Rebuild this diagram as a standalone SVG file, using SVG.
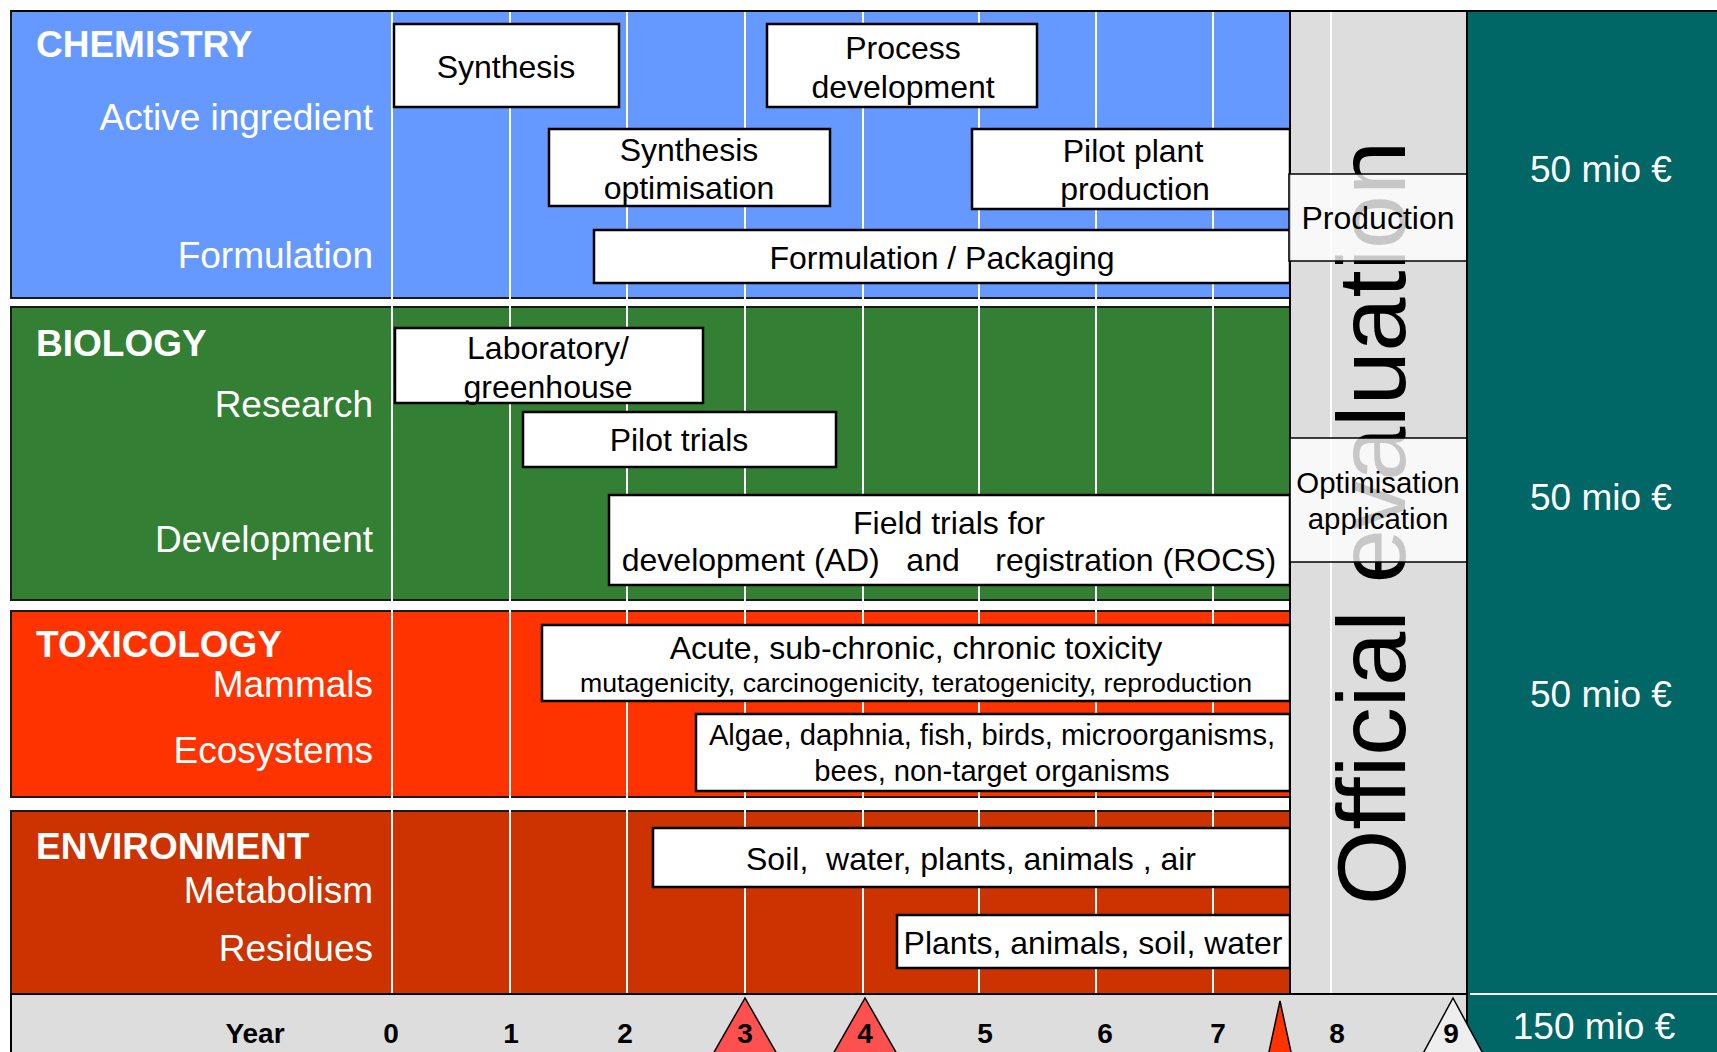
<svg xmlns="http://www.w3.org/2000/svg" width="1717" height="1052" viewBox="0 0 1717 1052">
<style>
text{font-family:"Liberation Sans",Arial,sans-serif}
.lab{fill:#fff;font-size:37px;text-anchor:end}
.head{fill:#fff;font-size:37px;font-weight:bold}
.box{fill:#fff;stroke:#000;stroke-width:2.5}
.bt{fill:#000;font-size:32px;text-anchor:middle;white-space:pre}
.panel{stroke:#1a1a1a;stroke-width:2}
.grid line{stroke:#fff;stroke-width:2}
.money{fill:#fff;font-size:37px;text-anchor:middle}
.yr{fill:#000;font-size:28px;font-weight:bold;text-anchor:middle}
.ovl{fill:#fff;fill-opacity:0.78;stroke:#000;stroke-width:1.5}
.tri{stroke:#000;stroke-width:1.5}
</style>
<rect width="1717" height="1052" fill="#fff"/>
<!-- panels -->
<g id="panel-chemistry">
<rect class="panel" x="11" y="11" width="1279" height="287" fill="#6699FF"/>
<text class="head" x="36" y="57">CHEMISTRY</text>
<text class="lab" x="373" y="130">Active ingredient</text>
<text class="lab" x="373" y="268">Formulation</text>
</g>
<g id="panel-biology">
<rect class="panel" x="11" y="307" width="1279" height="293" fill="#337F33"/>
<text class="head" x="36" y="356">BIOLOGY</text>
<text class="lab" x="373" y="417">Research</text>
<text class="lab" x="373" y="552">Development</text>
</g>
<g id="panel-toxicology">
<rect class="panel" x="11" y="611" width="1279" height="186" fill="#FF3300"/>
<text class="head" x="36" y="657">TOXICOLOGY</text>
<text class="lab" x="373" y="697">Mammals</text>
<text class="lab" x="373" y="763">Ecosystems</text>
</g>
<g id="panel-environment">
<rect class="panel" x="11" y="811" width="1279" height="183" fill="#CC3300"/>
<text class="head" x="36" y="859">ENVIRONMENT</text>
<text class="lab" x="373" y="903">Metabolism</text>
<text class="lab" x="373" y="961">Residues</text>
</g>
<g id="grid" class="grid">
<line x1="392" y1="11" x2="392" y2="993"/>
<line x1="510" y1="11" x2="510" y2="993"/>
<line x1="627" y1="11" x2="627" y2="993"/>
<line x1="745" y1="11" x2="745" y2="993"/>
<line x1="863" y1="11" x2="863" y2="993"/>
<line x1="979" y1="11" x2="979" y2="993"/>
<line x1="1096" y1="11" x2="1096" y2="993"/>
<line x1="1213" y1="11" x2="1213" y2="993"/>
</g>
<!-- boxes -->
<g id="synthesis"><rect class="box" x="394" y="24" width="225" height="83"/><text class="bt" x="506" y="78">Synthesis</text></g>
<g id="process-development"><rect class="box" x="767" y="24" width="270" height="83"/><text class="bt" x="903" y="59">Process</text><text class="bt" x="903" y="98">development</text></g>
<g id="synthesis-optimisation"><rect class="box" x="549" y="129" width="281" height="77"/><text class="bt" x="689" y="161">Synthesis</text><text class="bt" x="689" y="199">optimisation</text></g>
<g id="pilot-plant"><rect class="box" x="972" y="129" width="318" height="80"/><text class="bt" x="1133" y="162">Pilot plant</text><text class="bt" x="1135" y="200">production</text></g>
<g id="formulation-packaging"><rect class="box" x="594" y="230" width="696" height="53"/><text class="bt" x="942" y="269">Formulation / Packaging</text></g>
<g id="laboratory"><rect class="box" x="395" y="328" width="308" height="75"/><text class="bt" x="548" y="359">Laboratory/</text><text class="bt" x="548" y="398">greenhouse</text></g>
<g id="pilot-trials"><rect class="box" x="523" y="412" width="313" height="55"/><text class="bt" x="679" y="451">Pilot trials</text></g>
<g id="field-trials"><rect class="box" x="609" y="495" width="681" height="90"/><text class="bt" x="949" y="534">Field trials for</text><text class="bt" x="949" y="571">development (AD)   and    registration (ROCS)</text></g>
<g id="toxicity"><rect class="box" x="542" y="625" width="748" height="76"/><text class="bt" x="916" y="659">Acute, sub-chronic, chronic toxicity</text><text class="bt" x="916" y="692" style="font-size:26.7px">mutagenicity, carcinogenicity, teratogenicity, reproduction</text></g>
<g id="ecosystems"><rect class="box" x="696" y="714" width="594" height="77"/><text class="bt" x="992" y="745" style="font-size:29.2px">Algae, daphnia, fish, birds, microorganisms,</text><text class="bt" x="992" y="781" style="font-size:29.2px">bees, non-target organisms</text></g>
<g id="metabolism"><rect class="box" x="653" y="828" width="637" height="59"/><text class="bt" x="971" y="870">Soil,  water, plants, animals , air</text></g>
<g id="residues"><rect class="box" x="897" y="915" width="393" height="53"/><text class="bt" x="1093" y="954">Plants, animals, soil, water</text></g>
<!-- official evaluation column -->
<g id="official-evaluation">
<rect x="1290" y="11" width="177" height="983" fill="#DDDDDD" stroke="#000" stroke-width="2"/>
<line x1="1331" y1="12" x2="1331" y2="993" stroke="#fff" stroke-width="2"/>
<text transform="translate(1405,523) rotate(-90)" x="0" y="0" text-anchor="middle" style="font-size:97px" fill="#000">Official evaluation</text>
</g>
<g id="production"><rect class="ovl" x="1289" y="174" width="178" height="87"/><text class="bt" x="1378" y="229">Production</text></g>
<g id="optimisation-application"><rect class="ovl" x="1290" y="438" width="177" height="124"/><text class="bt" x="1378" y="493" style="font-size:29.4px">Optimisation</text><text class="bt" x="1378" y="529" style="font-size:29.4px">application</text></g>
<!-- cost column -->
<g id="costs">
<rect x="1467" y="11" width="260" height="1050" fill="#006666"/>
<line x1="1467" y1="11" x2="1467" y2="1052" stroke="#000" stroke-width="2"/>
<line x1="1470" y1="994" x2="1717" y2="994" stroke="#fff" stroke-width="2"/>
<text class="money" x="1601" y="182">50 mio €</text>
<text class="money" x="1601" y="510">50 mio €</text>
<text class="money" x="1601" y="707">50 mio €</text>
<text class="money" x="1594" y="1039">150 mio €</text>
</g>
<line x1="11" y1="11" x2="1717" y2="11" stroke="#000" stroke-width="2"/>
<!-- timeline -->
<g id="timeline">
<rect x="11" y="994" width="1456" height="70" fill="#DDDDDD" stroke="#000" stroke-width="2"/>
<polygon class="tri" points="745,998 709,1061 781,1061" fill="#FF5050"/>
<polygon class="tri" points="865,998 829,1061 901,1061" fill="#FF5050"/>
<polygon class="tri" points="1280,1001 1267,1061 1293,1061" fill="#FF3300"/>
<polygon class="tri" points="1453,998 1419,1061 1487,1061" fill="#EEEEEE"/>
<text class="yr" x="255" y="1043">Year</text>
<text class="yr" x="391" y="1043">0</text>
<text class="yr" x="511" y="1043">1</text>
<text class="yr" x="625" y="1043">2</text>
<text class="yr" x="745" y="1043">3</text>
<text class="yr" x="865" y="1043">4</text>
<text class="yr" x="985" y="1043">5</text>
<text class="yr" x="1105" y="1043">6</text>
<text class="yr" x="1218" y="1043">7</text>
<text class="yr" x="1337" y="1043">8</text>
<text class="yr" x="1451" y="1043">9</text>
</g>
<g id="connectors"/>
</svg>
